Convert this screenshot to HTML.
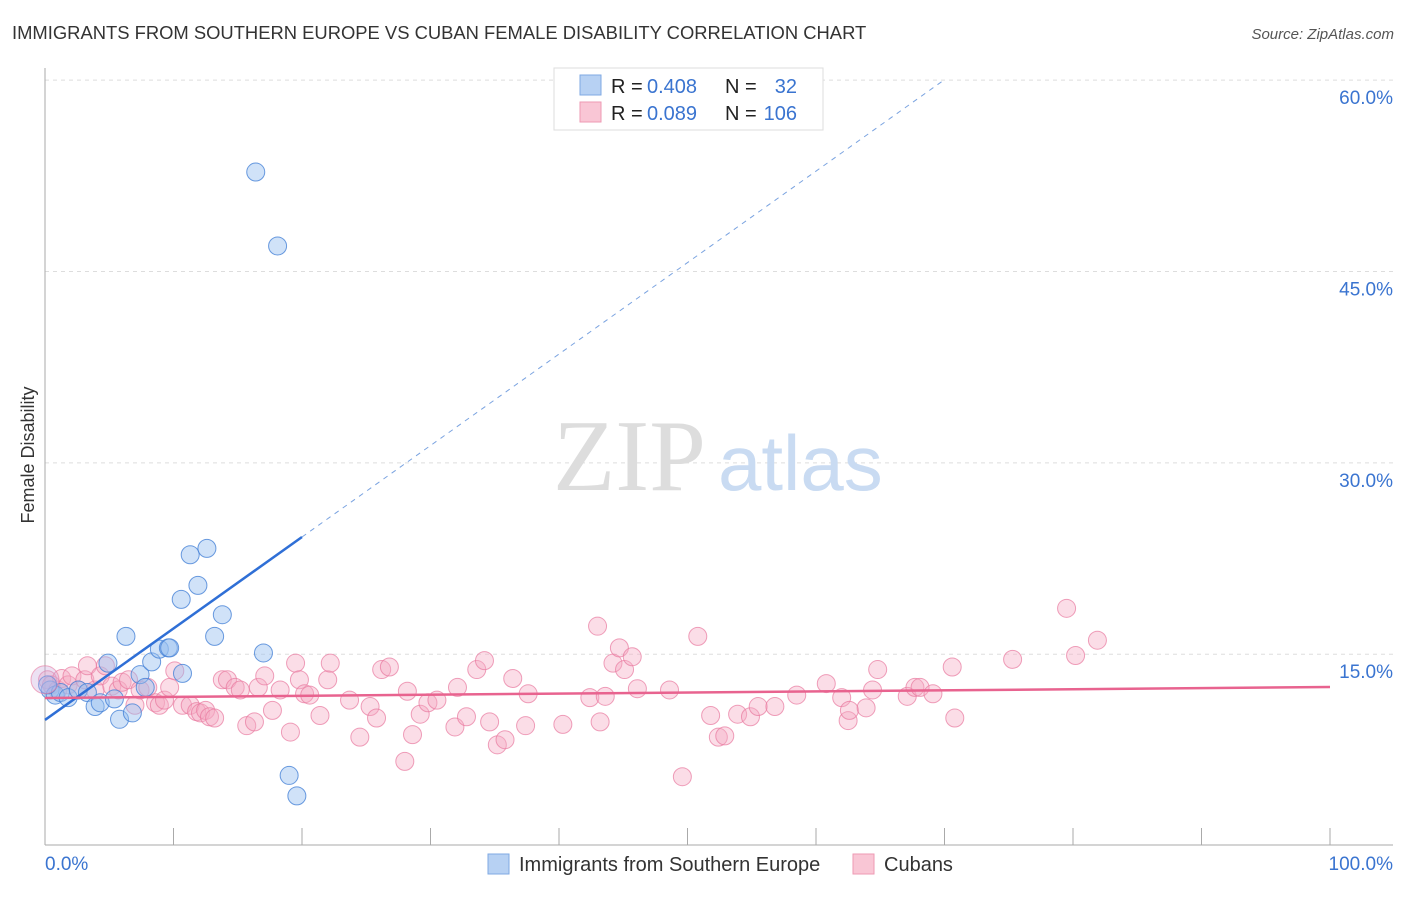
<!DOCTYPE html>
<html><head><meta charset="utf-8"><style>
body{margin:0;background:#fff;font-family:"Liberation Sans",sans-serif;}
svg text{font-family:"Liberation Sans",sans-serif;}
</style></head><body>
<svg width="1406" height="892" xmlns="http://www.w3.org/2000/svg">
<text x="12" y="39" font-size="18.4" fill="#333">IMMIGRANTS FROM SOUTHERN EUROPE VS CUBAN FEMALE DISABILITY CORRELATION CHART</text>
<text x="1394" y="39" font-size="15" fill="#555" font-style="italic" text-anchor="end">Source: ZipAtlas.com</text>
<g id="grid"></g>
<text x="553" y="490" font-size="102" fill="#ddd" style="font-family:'Liberation Serif',serif">ZIP</text>
<text x="718" y="490" font-size="78" fill="#c9dbf2">atlas</text>
<text x="34" y="455" font-size="18" fill="#333" text-anchor="middle" transform="rotate(-90 34 455)">Female Disability</text>
<g id="pts"></g>
<g id="lines"></g>
<g>
<rect x="554" y="68" width="269" height="62" fill="#fff" stroke="#ddd"/>
<rect x="580" y="75" width="21" height="20" fill="#b7d1f3" stroke="#7fa9e3"/>
<rect x="580" y="102" width="21" height="20" fill="#f9c6d5" stroke="#ee9ab3"/>
<text x="611" y="93" font-size="20" fill="#222">R =</text>
<text x="647" y="93" font-size="20" fill="#3a74d0">0.408</text>
<text x="725" y="93" font-size="20" fill="#222">N =</text>
<text x="797" y="93" font-size="20" fill="#3a74d0" text-anchor="end">32</text>
<text x="611" y="120" font-size="20" fill="#222">R =</text>
<text x="647" y="120" font-size="20" fill="#3a74d0">0.089</text>
<text x="725" y="120" font-size="20" fill="#222">N =</text>
<text x="797" y="120" font-size="20" fill="#3a74d0" text-anchor="end">106</text>
</g>
<g>
<rect x="488" y="854" width="21" height="20" fill="#b7d1f3" stroke="#7fa9e3"/>
<text x="519" y="871" font-size="20" fill="#333">Immigrants from Southern Europe</text>
<rect x="853" y="854" width="21" height="20" fill="#f9c6d5" stroke="#ee9ab3"/>
<text x="884" y="871" font-size="20" fill="#333">Cubans</text>
</g>
<text x="45" y="870" font-size="19" fill="#3a74d0">0.0%</text>
<text x="1393" y="870" font-size="19" fill="#3a74d0" text-anchor="end">100.0%</text>
</svg>
<script>
const yTicks=[15,30,45,60];
const yTickLabels=["15.0%","30.0%","45.0%","60.0%"];
const xTicks=[0,10,20,30,40,50,60,70,80,90,100];
const blueX=[0.4,0.8,1.2,1.8,2.6,3.3,3.9,4.3,4.9,5.4,5.8,6.3,6.8,7.4,7.8,8.3,8.9,9.6,9.7,10.7,10.6,11.3,11.9,12.6,13.2,13.8,16.4,18.1,17.0,19.0,19.6,0.2];
const blueY=[12.2,11.8,12.0,11.6,12.2,12.0,10.9,11.2,14.3,11.5,9.9,16.4,10.4,13.4,12.4,14.4,15.4,15.5,15.5,13.5,19.3,22.8,20.4,23.3,16.4,18.1,52.8,47.0,15.1,5.5,3.9,12.6];
const pinkX=[0.2,0.5,1.0,1.3,1.8,2.1,2.6,3.1,3.3,3.9,4.3,4.7,5.2,5.7,6.0,6.5,7.0,7.4,8.0,8.6,8.9,9.3,9.7,10.1,10.7,11.3,11.8,12.1,12.5,12.8,13.2,13.8,14.2,14.8,15.2,15.7,16.3,16.6,17.1,17.7,18.3,19.1,19.5,19.8,20.2,20.6,21.4,22.0,22.2,23.7,24.5,25.3,25.8,26.2,26.8,28.0,28.2,28.6,29.2,29.8,30.5,31.9,32.1,32.8,33.6,34.2,34.6,35.2,35.8,36.4,37.4,37.6,40.3,42.4,43.0,43.2,43.6,44.2,44.7,45.1,45.7,46.1,48.6,49.6,50.8,51.8,52.4,52.9,53.9,54.9,55.5,56.8,58.5,60.8,62.0,62.5,62.6,63.9,64.4,64.8,67.1,67.7,68.1,69.1,70.6,70.8,75.3,79.5,80.2,81.9];
const pinkY=[13.0,12.6,12.2,13.1,12.6,13.3,12.2,13.0,14.1,12.2,13.3,14.1,12.5,12.2,12.8,13.0,11.0,12.2,12.4,11.2,11.0,11.4,12.4,13.7,11.0,11.0,10.5,10.4,10.6,10.1,10.0,13.0,13.0,12.4,12.2,9.4,9.7,12.4,13.3,10.6,12.2,8.9,14.3,13.0,11.9,11.8,10.2,13.0,14.3,11.4,8.5,10.9,10.0,13.8,14.0,6.6,12.1,8.7,10.3,11.2,11.4,9.3,12.4,10.1,13.8,14.5,9.7,7.9,8.3,13.1,9.4,11.9,9.5,11.6,17.2,9.7,11.7,14.3,15.5,13.8,14.8,12.3,12.2,5.4,16.4,10.2,8.5,8.6,10.3,10.1,10.9,10.9,11.8,12.7,11.6,9.8,10.6,10.8,12.2,13.8,11.7,12.4,12.4,11.9,14.0,10.0,14.6,18.6,14.9,16.1];
const blueTrend=[9.85,0.717];
const pinkTrend=[11.57,12.43];
const X=v=>45+v*12.85, Y=v=>845.6-v*12.757;
const NS="http://www.w3.org/2000/svg";
function mk(tag,attrs,parent){const e=document.createElementNS(NS,tag);for(const k in attrs)e.setAttribute(k,attrs[k]);parent.appendChild(e);return e;}
const grid=document.getElementById('grid');
yTicks.forEach((t,i)=>{
 const l=mk('line',{x1:45,x2:1393,y1:Y(t),y2:Y(t),stroke:'#ddd','stroke-dasharray':'4,4'},grid);
 
 
 const tx=mk('text',{x:1393,y:Y(t)+24,'font-size':19,fill:'#3a74d0','text-anchor':'end'},grid);
 tx.textContent=yTickLabels[i];
 
 
});
const ax=mk('line',{x1:45,x2:1393,y1:845,y2:845,stroke:'#aaa'},grid);


const ay=mk('line',{x1:45,x2:45,y1:68,y2:845,stroke:'#aaa'},grid);


xTicks.forEach(t=>{const l=mk('line',{x1:X(t),x2:X(t),y1:828,y2:845,stroke:'#aaa'},grid);
 
 });
const pts=document.getElementById('pts');
pinkX.forEach((x,i)=>{const c=mk('circle',{cx:X(x),cy:Y(pinkY[i]),r:9,fill:'rgba(246,170,195,0.4)',stroke:'rgba(232,120,158,0.7)','stroke-width':1},pts);
 
 });
blueX.forEach((x,i)=>{const c=mk('circle',{cx:X(x),cy:Y(blueY[i]),r:9,fill:'rgba(150,190,240,0.45)',stroke:'rgba(70,130,215,0.8)','stroke-width':1},pts);
 
 });
const big=mk('circle',{cx:X(0),cy:Y(13),r:14,fill:'rgba(200,170,220,0.35)',stroke:'rgba(232,120,158,0.6)'},pts);


const lines=document.getElementById('lines');
const b=x=>blueTrend[0]+blueTrend[1]*x;
const l1=mk('line',{x1:X(0),y1:Y(b(0)),x2:X(20),y2:Y(b(20)),stroke:'#2f6fd6','stroke-width':2.5},lines);


const l2=mk('line',{x1:X(20),y1:Y(b(20)),x2:X(70),y2:Y(b(70)),stroke:'#7aa3e0','stroke-width':1,'stroke-dasharray':'5,5'},lines);


const l3=mk('line',{x1:X(0),y1:Y(pinkTrend[0]),x2:X(100),y2:Y(pinkTrend[1]),stroke:'#e8638f','stroke-width':2.5},lines);


</script>
</body></html>
